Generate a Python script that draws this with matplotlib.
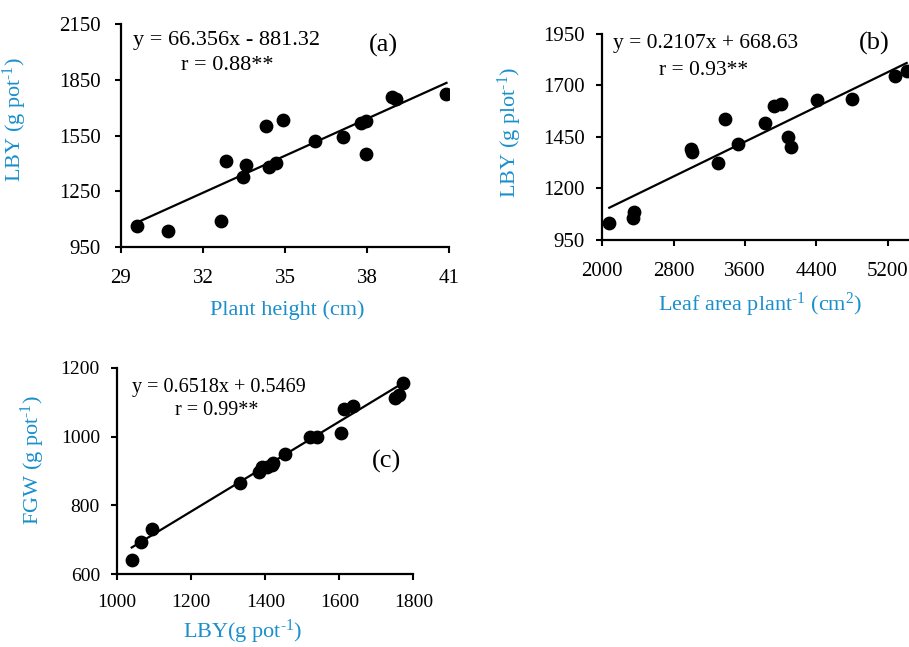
import numpy as np
import matplotlib.pyplot as plt

plt.rcParams['font.family'] = ['Liberation Serif', 'DejaVu Serif']
plt.rcParams['mathtext.fontset'] = 'custom'
plt.rcParams['mathtext.rm'] = 'Liberation Serif'
plt.rcParams['mathtext.it'] = 'Liberation Serif:italic'

BLUE = '#1a8fcc'
NEG1 = '$^{\u20101}$'  # superscript "-1" with a short hyphen

# (a) plant height vs LBY
height_cm = [29.57, 30.71, 32.65, 32.84, 33.45, 33.57, 34.29, 34.40, 34.67,
             34.93, 36.11, 37.12, 37.80, 37.95, 37.95, 38.90, 39.05, 40.91]
lby_a = [1061, 1034, 1088, 1415, 1327, 1393, 1603, 1380, 1402,
         1635, 1519, 1542, 1617, 1626, 1452, 1757, 1746, 1773]
fit_a = (66.356, -881.32)

# (b) leaf area vs LBY
leaf_area = [2078, 2340, 2359, 2994, 3009, 3293, 3372, 3518, 3824,
             3921, 4000, 4086, 4116, 4411, 4803, 5286, 5413]
lby_b = [1034, 1058, 1088, 1392, 1375, 1325, 1536, 1414, 1516,
         1600, 1612, 1452, 1400, 1630, 1634, 1746, 1772]
fit_b = (0.2107, 668.63)

# (c) LBY vs FGW
lby_c = [1039, 1065, 1094, 1332, 1382, 1392, 1404, 1417, 1422,
         1454, 1521, 1541, 1605, 1613, 1636, 1750, 1762, 1773]
fgw = [642, 693, 731, 866, 898, 913, 913, 917, 922,
       949, 1000, 1000, 1011, 1080, 1089, 1113, 1121, 1155]
fit_c = (0.6518, 0.5469)

fig = plt.figure(figsize=(9.09, 6.47), dpi=100)


def panel(rect, x, y, fit, xlim, xstep, ylim, ystep, tick_fs, xpad, ypad):
    ax = fig.add_axes(rect)
    ax.scatter(x, y, s=80, color='black', zorder=3)
    xs = np.array([min(x), max(x)])
    ax.plot(xs, fit[0] * xs + fit[1], color='black', lw=1.6, zorder=2)
    ax.set_xlim(*xlim)
    ax.set_ylim(*ylim)
    ax.set_xticks(np.arange(xlim[0], xlim[1] + xstep / 2, xstep))
    ax.set_yticks(np.arange(ylim[0], ylim[1] + ystep / 2, ystep))
    for s in ['top', 'right']:
        ax.spines[s].set_visible(False)
    for s in ['left', 'bottom']:
        ax.spines[s].set_linewidth(1.6)
    ax.tick_params(axis='both', direction='out', length=4.5, width=1.5,
                   labelsize=tick_fs)
    ax.tick_params(axis='x', pad=xpad)
    ax.tick_params(axis='y', pad=ypad)
    return ax


# panel (a)
ax = panel([0.1331, 0.6182, 0.3608, 0.3447], height_cm, lby_a, fit_a,
           (29, 41), 3, (950, 2150), 300, 15, 11, 10)
ax.text(0.037, 0.928, 'y = 66.356x - 881.32', transform=ax.transAxes,
        fontsize=16, va='center', ha='left')
ax.text(0.323, 0.816, 'r = 0.88**', transform=ax.transAxes,
        fontsize=16, va='center', ha='center')
ax.text(0.80, 0.906, '(a)', transform=ax.transAxes, fontsize=19,
        va='center', ha='center')
ax.set_xlabel('Plant height (cm)', color=BLUE, fontsize=16, va='center')
ax.xaxis.set_label_coords(0.506, -0.283)
ax.set_ylabel('LBY (g pot' + NEG1 + ')', color=BLUE, fontsize=16, va='center')
ax.yaxis.set_label_coords(-0.323, 0.57)

# panel (b)
ax = panel([0.6626, 0.6291, 0.3924, 0.3184], leaf_area, lby_b, fit_b,
           (2000, 6000), 800, (950, 1950), 250, 15, 11.5, 8)
ax.text(0.03, 0.956, 'y = 0.2107x + 668.63', transform=ax.transAxes,
        fontsize=15.5, va='center', ha='left')
ax.text(0.283, 0.825, 'r = 0.93**', transform=ax.transAxes,
        fontsize=15.5, va='center', ha='center')
ax.text(0.762, 0.956, '(b)', transform=ax.transAxes, fontsize=19,
        va='center', ha='center')
ax.set_xlabel('Leaf area plant' + NEG1 + ' (cm$^{2}$)', color=BLUE,
              fontsize=16, va='center')
ax.xaxis.set_label_coords(0.443, -0.316)
ax.set_ylabel('LBY (g plot' + NEG1 + ')', color=BLUE, fontsize=16, va='center')
ax.yaxis.set_label_coords(-0.26, 0.52)

# panel (c)
ax = panel([0.129, 0.1124, 0.3257, 0.3193], lby_c, fgw, fit_c,
           (1000, 1800), 200, (600, 1200), 200, 14, 9.5, 8)
ax.text(0.049, 0.903, 'y = 0.6518x + 0.5469', transform=ax.transAxes,
        fontsize=14.5, va='center', ha='left')
ax.text(0.336, 0.795, 'r = 0.99**', transform=ax.transAxes,
        fontsize=14.5, va='center', ha='center')
ax.text(0.91, 0.545, '(c)', transform=ax.transAxes, fontsize=19,
        va='center', ha='center')
ax.set_xlabel('LBY(g pot' + NEG1 + ')', color=BLUE, fontsize=16, va='center')
ax.xaxis.set_label_coords(0.425, -0.28)
ax.set_ylabel('FGW (g pot' + NEG1 + ')', color=BLUE, fontsize=16, va='center')
ax.yaxis.set_label_coords(-0.285, 0.553)

fig.savefig('out.png', dpi=100)
